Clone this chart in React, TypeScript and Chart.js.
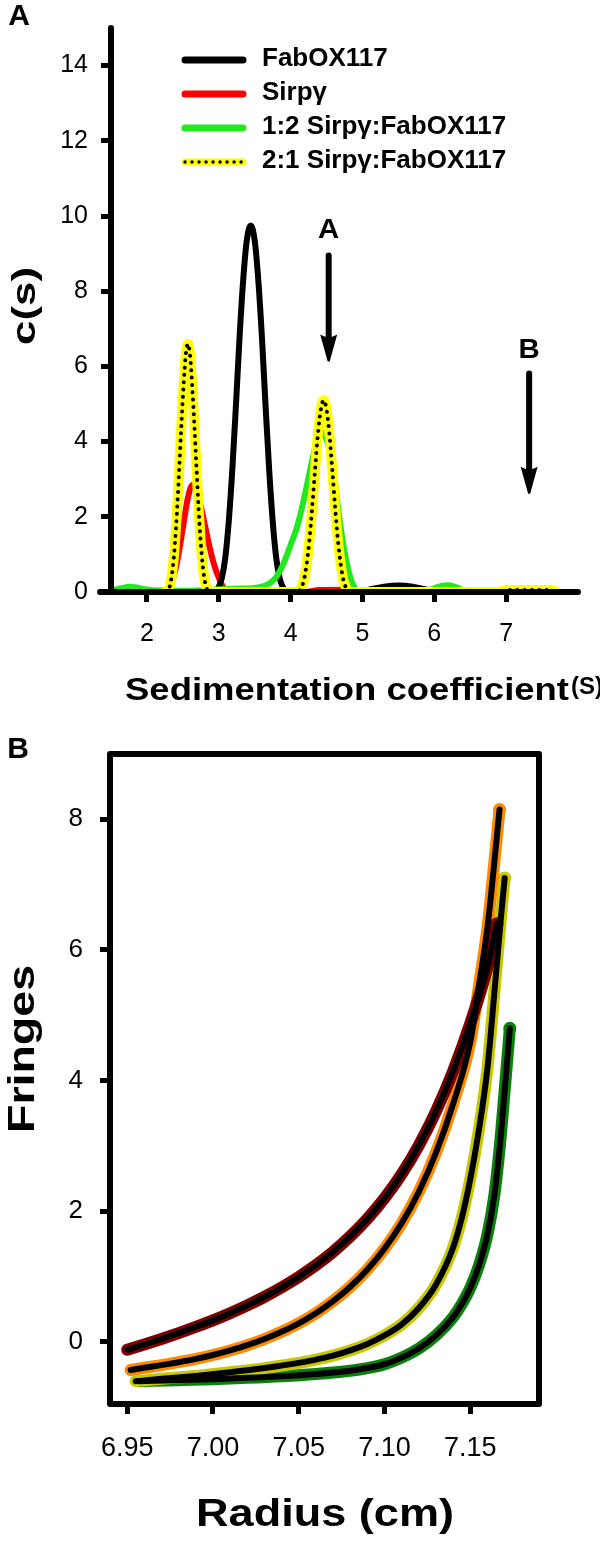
import React, { useEffect, useRef } from 'react';
import { Chart, registerables } from 'chart.js';

Chart.register(...registerables);

const FONT = '"Liberation Sans", Arial, Helvetica, sans-serif';

// ---------------- Panel A : c(s) distributions ----------------
const fabX = [2.85, 2.94, 2.99, 3.04, 3.09, 3.14, 3.19, 3.24, 3.29, 3.34, 3.39, 3.445, 3.5, 3.55, 3.6, 3.65, 3.7, 3.75, 3.8, 3.85, 3.9, 3.95, 4.3, 4.9, 5.1, 5.3, 5.5, 5.7, 5.9, 6.1];
const fabY = [0, 0, 0.1, 0.35, 0.9, 1.9, 3.3, 5.0, 6.8, 8.3, 9.35, 9.75, 9.35, 8.3, 6.8, 5.0, 3.3, 1.9, 0.9, 0.35, 0.1, 0, 0, 0, 0.07, 0.14, 0.17, 0.14, 0.06, 0];

const sirpX = [2.2, 2.27, 2.32, 2.37, 2.42, 2.47, 2.52, 2.57, 2.62, 2.645, 2.71, 2.76, 2.81, 2.86, 2.91, 2.96, 3.0, 3.04, 3.08, 3.13, 4.2, 4.4, 4.8, 5.1, 5.3];
const sirpY = [0, 0.03, 0.15, 0.4, 0.8, 1.35, 1.95, 2.5, 2.82, 2.85, 2.6, 2.2, 1.75, 1.3, 0.9, 0.58, 0.38, 0.2, 0.08, 0, 0, 0.05, 0.06, 0.04, 0];

const mix12X = [1.55, 1.65, 1.75, 1.85, 1.95, 2.1, 2.3, 2.5, 2.7, 2.9, 3.1, 3.3, 3.45, 3.6, 3.7, 3.8, 3.9, 4.0, 4.1, 4.2, 4.3, 4.37, 4.43, 4.49, 4.55, 4.61, 4.67, 4.73, 4.79, 4.85, 4.91, 4.97, 5.8, 5.9, 6.0, 6.1, 6.2, 6.3, 6.4, 6.5];
const mix12Y = [0.06, 0.1, 0.14, 0.12, 0.08, 0.05, 0.04, 0.03, 0.04, 0.06, 0.08, 0.09, 0.1, 0.14, 0.22, 0.4, 0.75, 1.25, 1.8, 2.6, 3.5, 4.05, 4.25, 4.1, 3.7, 3.0, 2.1, 1.3, 0.7, 0.28, 0.07, 0, 0, 0.03, 0.1, 0.16, 0.18, 0.13, 0.05, 0];

const mix21X = [2.26, 2.3, 2.33, 2.36, 2.39, 2.42, 2.45, 2.48, 2.51, 2.54, 2.57, 2.6, 2.63, 2.66, 2.69, 2.72, 2.75, 2.78, 2.81, 2.84, 2.88, 4.1, 4.14, 4.18, 4.22, 4.26, 4.3, 4.34, 4.38, 4.42, 4.46, 4.5, 4.54, 4.58, 4.62, 4.66, 4.7, 4.74, 4.78, 4.82, 6.9, 7.0, 7.6, 7.7];
const mix21Y = [0, 0.06, 0.25, 0.65, 1.3, 2.2, 3.3, 4.45, 5.5, 6.3, 6.6, 6.3, 5.5, 4.45, 3.3, 2.2, 1.3, 0.65, 0.25, 0.06, 0, 0, 0.08, 0.28, 0.7, 1.35, 2.25, 3.25, 4.2, 4.85, 5.1, 4.85, 4.2, 3.25, 2.25, 1.35, 0.7, 0.28, 0.08, 0, 0, 0.05, 0.05, 0];

const legendLabels = ['FabOX117', 'Sirpγ', '1:2 Sirpγ:FabOX117', '2:1 Sirpγ:FabOX117'];
const aColors = ['#000000', '#ff0000', '#22e822', '#ffff00'];
const aXTicks = [2, 3, 4, 5, 6, 7];
const aYTicks = [0, 2, 4, 6, 8, 10, 12, 14];

const arrowLabels = ['A', 'B'];
const arrowX = [4.53, 7.32];
const arrowTopY = [8.95, 5.81];
const arrowTipY = [6.13, 2.61];
const arrowLabelY = [9.61, 6.44];

// ---------------- Panel B : equilibrium fringes ----------------
const maroonX = [6.95, 6.96, 6.97, 6.98, 6.99, 7.0, 7.01, 7.02, 7.03, 7.04, 7.05, 7.06, 7.07, 7.08, 7.09, 7.1, 7.11, 7.12, 7.13, 7.14, 7.15, 7.16, 7.1655];
const maroonY = [-0.12, -0.04, 0.045, 0.135, 0.23, 0.33, 0.44, 0.56, 0.69, 0.835, 0.995, 1.175, 1.38, 1.615, 1.885, 2.2, 2.57, 3.01, 3.53, 4.15, 4.88, 5.74, 6.4];

const orangeX = [6.952, 6.96, 6.97, 6.98, 6.99, 7.0, 7.01, 7.02, 7.03, 7.04, 7.05, 7.06, 7.07, 7.08, 7.09, 7.1, 7.11, 7.12, 7.13, 7.14, 7.15, 7.155, 7.16, 7.164, 7.167];
const orangeY = [-0.43, -0.395, -0.355, -0.31, -0.26, -0.2, -0.13, -0.05, 0.045, 0.155, 0.285, 0.44, 0.625, 0.845, 1.11, 1.43, 1.82, 2.3, 2.9, 3.65, 4.6, 5.45, 6.35, 7.35, 8.15];

const oliveX = [6.955, 6.97, 6.99, 7.01, 7.03, 7.05, 7.06, 7.07, 7.08, 7.09, 7.1, 7.11, 7.12, 7.13, 7.14, 7.145, 7.15, 7.155, 7.16, 7.164, 7.168, 7.17];
const oliveY = [-0.6, -0.565, -0.52, -0.465, -0.4, -0.32, -0.27, -0.21, -0.13, -0.03, 0.1, 0.27, 0.52, 0.88, 1.45, 1.9, 2.5, 3.25, 4.2, 5.35, 6.55, 7.1];

const greenX = [6.957, 6.98, 7.0, 7.02, 7.04, 7.06, 7.08, 7.09, 7.1, 7.11, 7.12, 7.13, 7.14, 7.145, 7.15, 7.155, 7.16, 7.164, 7.167, 7.17, 7.173];
const greenY = [-0.6, -0.585, -0.57, -0.55, -0.525, -0.49, -0.44, -0.4, -0.34, -0.24, -0.1, 0.1, 0.38, 0.58, 0.83, 1.17, 1.65, 2.25, 2.95, 3.85, 4.8];

const bColors = ['#800000', '#ff8a00', '#c8c800', '#0a820a'];
const bXTicks = [6.95, 7.0, 7.05, 7.1, 7.15];
const bYTicks = [0, 2, 4, 6, 8];

const pts = (xs: number[], ys: number[]) => xs.map((x, i) => ({ x, y: ys[i] }));

function drawText(
  ctx: CanvasRenderingContext2D,
  text: string,
  x: number,
  y: number,
  font: string,
  opts: { width?: number; stretch?: number; rot?: number; align?: CanvasTextAlign } = {}
) {
  ctx.save();
  ctx.font = font;
  const w = ctx.measureText(text).width;
  const sx = opts.width ? opts.width / w : opts.stretch || 1;
  ctx.translate(x, y);
  if (opts.rot) ctx.rotate(opts.rot);
  ctx.scale(sx, 1);
  ctx.textAlign = opts.align || 'center';
  ctx.textBaseline = 'middle';
  ctx.fillStyle = '#000';
  ctx.fillText(text, 0, 0);
  ctx.restore();
}

const panelAPlugin = {
  id: 'panelADecor',
  afterDatasetsDraw(chart: any) {
    const { ctx, chartArea: a, scales } = chart;
    const xs = scales.x;
    const ys = scales.y;
    ctx.save();
    ctx.strokeStyle = '#000';
    ctx.fillStyle = '#000';
    ctx.lineCap = 'round';
    ctx.lineWidth = 6;
    ctx.beginPath();
    ctx.moveTo(a.left, a.top);
    ctx.lineTo(a.left, a.bottom);
    ctx.stroke();
    ctx.beginPath();
    ctx.moveTo(a.left - 11, a.bottom);
    ctx.lineTo(a.right, a.bottom);
    ctx.stroke();

    for (let i = 0; i < arrowLabels.length; i++) {
      const x = xs.getPixelForValue(arrowX[i]);
      const y0 = ys.getPixelForValue(arrowTopY[i]);
      const y1 = ys.getPixelForValue(arrowTipY[i]);
      ctx.lineWidth = 6;
      ctx.lineCap = 'round';
      ctx.beginPath();
      ctx.moveTo(x, y0);
      ctx.lineTo(x, y1 - 18);
      ctx.stroke();
      ctx.beginPath();
      ctx.moveTo(x - 8.5, y1 - 27);
      ctx.quadraticCurveTo(x, y1 - 22, x + 8.5, y1 - 27);
      ctx.lineTo(x + 1, y1);
      ctx.lineTo(x - 1, y1);
      ctx.closePath();
      ctx.fill();
      drawText(ctx, arrowLabels[i], x, ys.getPixelForValue(arrowLabelY[i]), `bold 28px ${FONT}`, { stretch: 1.05 });
    }

    for (let i = 0; i < legendLabels.length; i++) {
      const y = 60 + i * 34;
      ctx.setLineDash([]);
      ctx.lineCap = 'round';
      ctx.strokeStyle = aColors[i];
      ctx.lineWidth = 7;
      ctx.beginPath();
      ctx.moveTo(185, y);
      ctx.lineTo(243, y);
      ctx.stroke();
      if (i === 3) {
        ctx.strokeStyle = '#000';
        ctx.lineWidth = 3.5;
        ctx.setLineDash([0.01, 7]);
        ctx.beginPath();
        ctx.moveTo(185, y);
        ctx.lineTo(244, y);
        ctx.stroke();
        ctx.setLineDash([]);
      }
      drawText(ctx, legendLabels[i], 262, y - 1, `bold 25px ${FONT}`, { stretch: 1.04, align: 'left' });
    }

    drawText(ctx, 'A', 19, 17, `bold 30px ${FONT}`);
    drawText(ctx, 'c(s)', 26, 306, `bold 34px ${FONT}`, { width: 78, rot: -Math.PI / 2 });
    drawText(ctx, 'Sedimentation coefficient', 125, 691, `bold 31px ${FONT}`, { width: 444, align: 'left' });
    drawText(ctx, '(S)', 571, 687, `bold 24px ${FONT}`, { align: 'left' });
    ctx.restore();
  },
};

const panelBPlugin = {
  id: 'panelBDecor',
  afterDatasetsDraw(chart: any) {
    const { ctx, chartArea: a } = chart;
    ctx.save();
    ctx.strokeStyle = '#000';
    ctx.lineWidth = 6;
    ctx.lineJoin = 'round';
    ctx.strokeRect(a.left, a.top, a.right - a.left, a.bottom - a.top);
    drawText(ctx, 'B', 18, 30, `bold 30px ${FONT}`);
    drawText(ctx, 'Fringes', 24, 329, `bold 36px ${FONT}`, { width: 168, rot: -Math.PI / 2 });
    drawText(ctx, 'Radius (cm)', 325, 796, `bold 38px ${FONT}`, { width: 258 });
    ctx.restore();
  },
};

const lineBase = {
  fill: false,
  pointRadius: 0,
  pointHoverRadius: 0,
  cubicInterpolationMode: 'monotone' as const,
  borderCapStyle: 'round' as const,
  borderJoinStyle: 'round' as const,
};

function configA(): any {
  return {
    type: 'line',
    data: {
      datasets: [
        { ...lineBase, label: legendLabels[3] + ' dots', data: pts(mix21X, mix21Y), borderColor: '#000', borderWidth: 4, borderDash: [0.01, 7.3], order: 0 },
        { ...lineBase, label: legendLabels[3], data: pts(mix21X, mix21Y), borderColor: aColors[3], borderWidth: 10, order: 1 },
        { ...lineBase, label: legendLabels[2], data: pts(mix12X, mix12Y), borderColor: aColors[2], borderWidth: 6, order: 2 },
        { ...lineBase, label: legendLabels[0], data: pts(fabX, fabY), borderColor: aColors[0], borderWidth: 6, order: 3 },
        { ...lineBase, label: legendLabels[1], data: pts(sirpX, sirpY), borderColor: aColors[1], borderWidth: 6, order: 4 },
      ],
    },
    options: {
      animation: false,
      responsive: false,
      layout: { padding: { top: 24, right: 22, left: 0, bottom: 0 } },
      plugins: { legend: { display: false }, tooltip: { enabled: false } },
      scales: {
        x: {
          type: 'linear',
          min: 1.5,
          max: 8,
          afterBuildTicks: (s: any) => { s.ticks = aXTicks.map((v) => ({ value: v })); },
          afterFit: (s: any) => { s.height = 128; },
          border: { display: false },
          grid: { drawOnChartArea: false, drawTicks: true, tickLength: 10, tickWidth: 5, tickColor: '#000' },
          ticks: { color: '#000', padding: 17, maxRotation: 0, font: { family: FONT, size: 25 } },
        },
        y: {
          type: 'linear',
          min: 0,
          max: 15,
          afterBuildTicks: (s: any) => { s.ticks = aYTicks.map((v) => ({ value: v })); },
          afterFit: (s: any) => { s.width = 111; },
          border: { display: false },
          grid: { drawOnChartArea: false, drawTicks: true, tickLength: 10, tickWidth: 5, tickColor: '#000' },
          ticks: { color: '#000', padding: 13, font: { family: FONT, size: 25 } },
        },
      },
    },
    plugins: [panelAPlugin],
  };
}

function configB(): any {
  const series = [
    { label: 'Series 1', xs: maroonX, ys: maroonY, color: bColors[0] },
    { label: 'Series 2', xs: orangeX, ys: orangeY, color: bColors[1] },
    { label: 'Series 3', xs: oliveX, ys: oliveY, color: bColors[2] },
    { label: 'Series 4', xs: greenX, ys: greenY, color: bColors[3] },
  ];
  const datasets: any[] = [];
  series.forEach((s, i) => {
    datasets.push({
      ...lineBase,
      label: s.label + ' fit',
      data: pts(s.xs, s.ys),
      borderColor: '#000',
      borderWidth: 6,
      order: i,
    });
  });
  series.forEach((s, i) => {
    datasets.push({
      ...lineBase,
      label: s.label,
      data: pts(s.xs, s.ys),
      borderColor: s.color,
      backgroundColor: s.color,
      borderWidth: 12,
      pointBorderWidth: 0,
      pointRadius: (c: any) => (c.dataIndex === s.xs.length - 1 ? 6.5 : 0),
      order: 10 + i,
    });
  });
  return {
    type: 'line',
    data: { datasets },
    options: {
      animation: false,
      responsive: false,
      layout: { padding: { top: 34, right: 61, left: 0, bottom: 0 } },
      plugins: { legend: { display: false }, tooltip: { enabled: false } },
      scales: {
        x: {
          type: 'linear',
          min: 6.94,
          max: 7.19,
          afterBuildTicks: (s: any) => { s.ticks = bXTicks.map((v) => ({ value: v })); },
          afterFit: (s: any) => { s.height = 138; },
          border: { display: false },
          grid: { drawOnChartArea: false, drawTicks: true, tickLength: 10, tickWidth: 5, tickColor: '#000' },
          ticks: { color: '#000', padding: 18, maxRotation: 0, font: { family: FONT, size: 27 }, callback: (v: any) => Number(v).toFixed(2) },
        },
        y: {
          type: 'linear',
          min: -0.95,
          max: 9,
          afterBuildTicks: (s: any) => { s.ticks = bYTicks.map((v) => ({ value: v })); },
          afterFit: (s: any) => { s.width = 110; },
          border: { display: false },
          grid: { drawOnChartArea: false, drawTicks: true, tickLength: 10, tickWidth: 5, tickColor: '#000' },
          ticks: { color: '#000', padding: 17, font: { family: FONT, size: 26 } },
        },
      },
    },
    plugins: [panelBPlugin],
  };
}

export default function App() {
  const aRef = useRef<HTMLCanvasElement>(null);
  const bRef = useRef<HTMLCanvasElement>(null);
  useEffect(() => {
    const ca = new Chart(aRef.current as HTMLCanvasElement, configA());
    const cb = new Chart(bRef.current as HTMLCanvasElement, configB());
    return () => {
      ca.destroy();
      cb.destroy();
    };
  }, []);
  return (
    <div style={{ position: 'absolute', left: 0, top: 0, width: 600, height: 1542, background: '#fff' }}>
      <canvas ref={aRef} width={600} height={720} style={{ position: 'absolute', left: 0, top: 0, width: 600, height: 720 }} />
      <canvas ref={bRef} width={600} height={822} style={{ position: 'absolute', left: 0, top: 720, width: 600, height: 822 }} />
    </div>
  );
}
